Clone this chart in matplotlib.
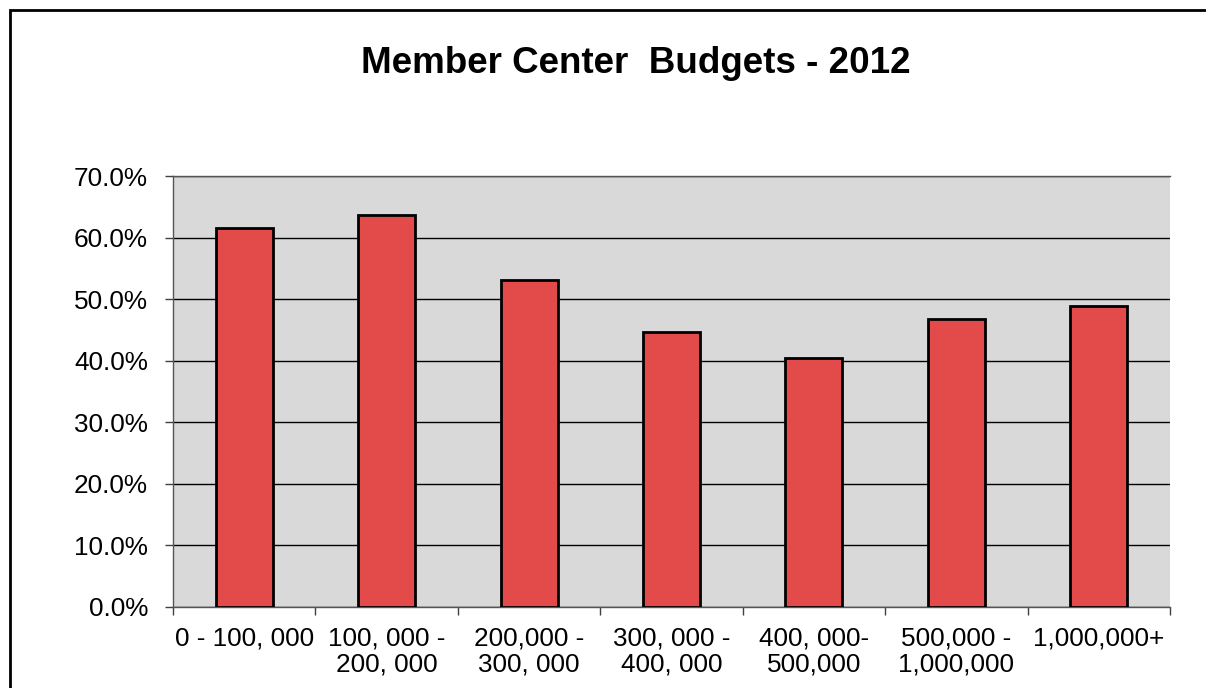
import matplotlib
matplotlib.use("Agg")
import matplotlib.pyplot as plt
from matplotlib.patches import Rectangle
from matplotlib.ticker import FixedLocator, NullFormatter, FuncFormatter

categories = ["0 - 100, 000", "100, 000 -\n200, 000", "200,000 -\n300, 000",
              "300, 000 -\n400, 000", "400, 000-\n500,000", "500,000 -\n1,000,000",
              "1,000,000+"]
shares = [61.6, 63.7, 53.1, 44.7, 40.4, 46.8, 48.9]
y_ticks = [0, 10, 20, 30, 40, 50, 60, 70]

plt.rcParams["font.family"] = ["Liberation Sans", "DejaVu Sans"]

fig = plt.figure(figsize=(12.06, 6.88), dpi=100)
ax = fig.add_axes([173 / 1206, 1 - 607 / 688, (1170 - 173) / 1206, (607 - 176) / 688])

# outer chart frame
fig.patches.append(Rectangle((10 / 1206, -0.05), 1.2, 1 - 10 / 688 + 0.05,
                             transform=fig.transFigure, fill=False,
                             edgecolor="black", linewidth=2, zorder=0))

ax.set_facecolor("#D9D9D9")
x = list(range(len(categories)))
ax.bar(x, shares, width=0.40, color="#E34B4B", edgecolor="black",
       linewidth=2, zorder=3)

ax.set_xlim(-0.5, len(categories) - 0.5)
ax.set_ylim(0, 70)
ax.set_yticks(y_ticks)
ax.yaxis.set_major_formatter(FuncFormatter(lambda v, p: f"{v:.1f}%"))
ax.grid(axis="y", color="black", linewidth=1, zorder=1)
ax.set_axisbelow(True)

# category labels centred under bars, tick marks at the boundaries
ax.xaxis.set_major_locator(FixedLocator([i - 0.5 for i in range(len(categories) + 1)]))
ax.xaxis.set_major_formatter(NullFormatter())
ax.xaxis.set_minor_locator(FixedLocator(x))
ax.set_xticklabels(categories, minor=True, linespacing=1.12)
ax.tick_params(axis="x", which="major", direction="out", length=6, width=1,
               color="#404040")
ax.tick_params(axis="x", which="minor", length=0, pad=14, labelsize=18.8)
ax.tick_params(axis="y", direction="out", length=6, width=1, color="#404040",
               labelsize=18.8, pad=12)

for side in ("top", "left", "bottom"):
    ax.spines[side].set_color("#555555")
    ax.spines[side].set_linewidth(1)
ax.spines["right"].set_visible(False)

fig.text(636 / 1206, 1 - 72.7 / 688, "Member Center  Budgets - 2012",
         ha="center", va="baseline", fontsize=26.5, fontweight="bold")

fig.savefig("out.png", dpi=100)
